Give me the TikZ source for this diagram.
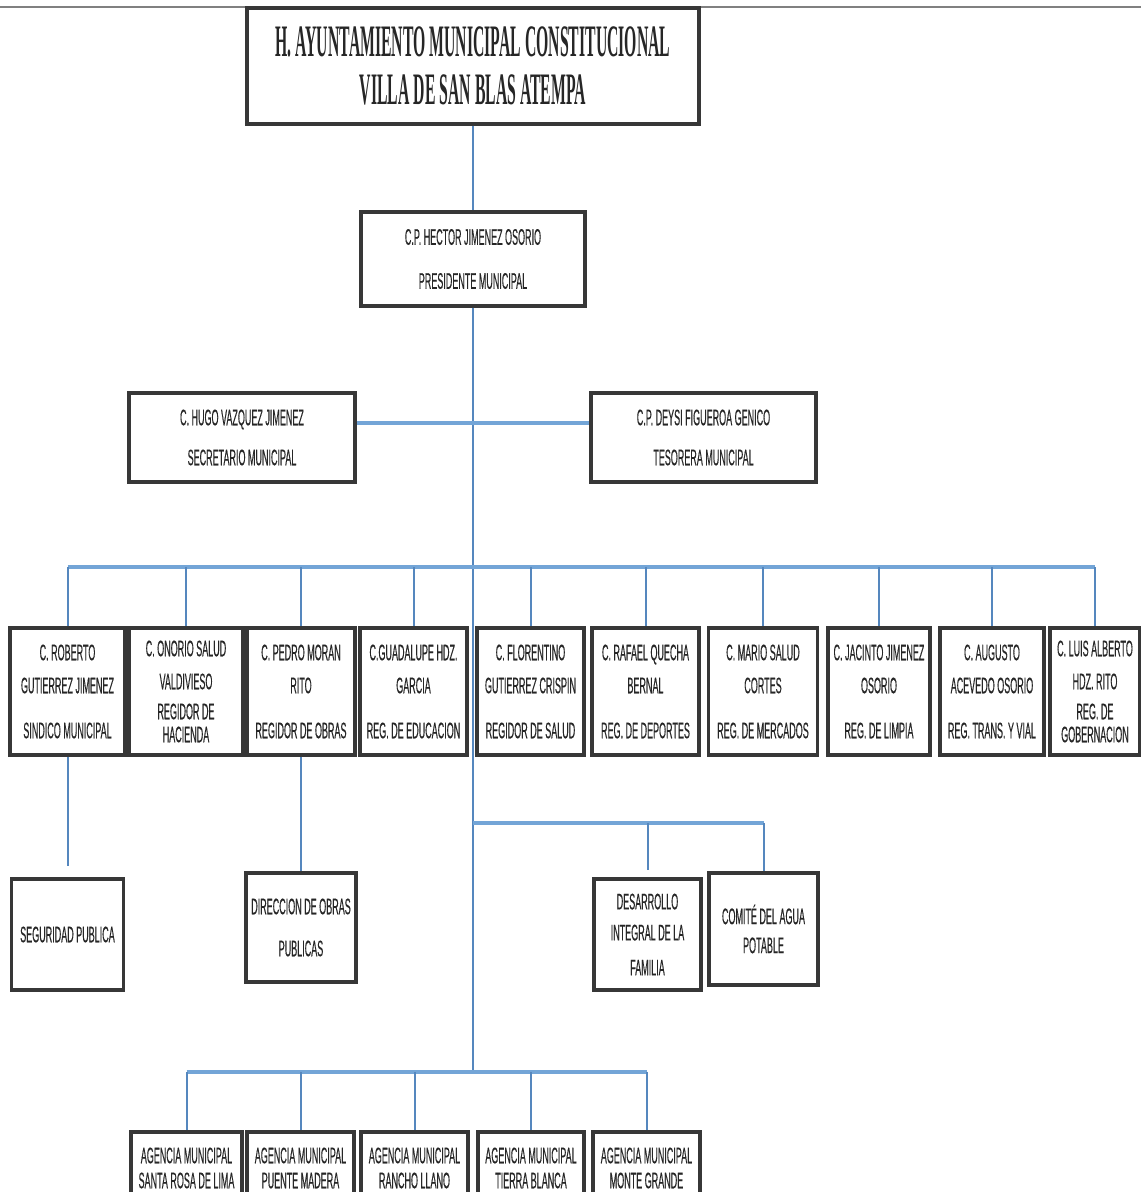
\documentclass[tikz,border=0pt]{standalone}
\usepackage{fontspec}
\setmainfont{Liberation Sans}[FakeStretch=0.40, FakeBold=0.3]
\newfontfamily\titlefont{Liberation Serif}[FakeStretch=0.35]
\usepackage{tikz}

\definecolor{thinblue}{RGB}{85,135,190}
\definecolor{busblue}{RGB}{115,165,215}
\definecolor{boxgray}{RGB}{55,55,55}

\tikzset{
  box/.style={draw=boxgray, line width=2pt, fill=white, inner sep=0pt,
    align=center, text=black!85, font=\fontsize{13.5}{15}\selectfont},
  reg/.style={box, minimum height=76.2pt},
  agency/.style={box, minimum height=43.2pt},
  thinline/.style={draw=thinblue, line width=1.2pt},
  busline/.style={draw=busblue, line width=2.8pt},
}

\begin{document}
\begin{tikzpicture}[x=0.6pt, y=-0.6pt]
  \useasboundingbox [fill=white] (0,0) rectangle (1141,1192);
  \draw [gray, line width=1pt] (0,7) -- (1141,7);

  % cabeza
  \node [box, minimum width=271.2pt, minimum height=69.6pt,
    font=\titlefont\bfseries\fontsize{27}{28.8}\selectfont] (title) at (473,66)
    {H. AYUNTAMIENTO MUNICIPAL CONSTITUCIONAL\\VILLA DE SAN BLAS ATEMPA};
  \node [box, minimum width=134.4pt, minimum height=56.4pt] (pres) at (473,259)
    {C.P. HECTOR JIMENEZ OSORIO\\[11.4pt]PRESIDENTE MUNICIPAL};
  \node [box, minimum width=135.6pt, minimum height=53.4pt] (sec) at (242,437.5)
    {C. HUGO VAZQUEZ JIMENEZ\\[9pt]SECRETARIO MUNICIPAL};
  \node [box, minimum width=135pt, minimum height=53.4pt] (tes) at (703.5,437.5)
    {C.P. DEYSI FIGUEROA GENICO\\[9pt]TESORERA MUNICIPAL};

  % regidores
  \node [reg, minimum width=69pt] (rob) at (67.5,691.5)
    {C. ROBERTO\\[4.8pt]GUTIERREZ JIMENEZ\\[12pt]SINDICO MUNICIPAL};
  \node [reg, minimum width=68.4pt] (ono) at (186,691.5)
    {C. ONORIO SALUD\\[4.8pt]VALDIVIESO\\[3pt]REGIDOR DE\\[-1.2pt]HACIENDA};
  \node [reg, minimum width=64.8pt] (ped) at (301,691.5)
    {C. PEDRO MORAN\\[4.8pt]RITO\\[12pt]REGIDOR DE OBRAS};
  \node [reg, minimum width=64.2pt] (gua) at (413.5,691.5)
    {C.GUADALUPE HDZ.\\[4.8pt]GARCIA\\[12pt]REG. DE EDUCACION};
  \node [reg, minimum width=64.2pt] (flo) at (530.5,691.5)
    {C. FLORENTINO\\[4.8pt]GUTIERREZ CRISPIN\\[12pt]REGIDOR DE SALUD};
  \node [reg, minimum width=64.2pt] (raf) at (645.5,691.5)
    {C. RAFAEL QUECHA\\[4.8pt]BERNAL\\[12pt]REG. DE DEPORTES};
  \node [reg, minimum width=65.4pt] (mar) at (763,691.5)
    {C. MARIO SALUD\\[4.8pt]CORTES\\[12pt]REG. DE MERCADOS};
  \node [reg, minimum width=61.2pt] (jac) at (879,691.5)
    {C. JACINTO JIMENEZ\\[4.8pt]OSORIO\\[12pt]REG. DE LIMPIA};
  \node [reg, minimum width=62.4pt] (aug) at (992,691.5)
    {C. AUGUSTO\\[4.8pt]ACEVEDO OSORIO\\[12pt]REG. TRANS. Y VIAL};
  \node [reg, minimum width=54pt] (lui) at (1095,691.5)
    {C. LUIS ALBERTO\\[4.8pt]HDZ. RITO\\[3pt]REG. DE\\[-1.2pt]GOBERNACION};

  % dependencias
  \node [box, minimum width=67.2pt, minimum height=66.6pt] (seg) at (67.5,934.5)
    {SEGURIDAD PUBLICA};
  \node [box, minimum width=66pt, minimum height=65.4pt] (dir) at (301,927.5)
    {DIRECCION DE OBRAS\\[10.2pt]PUBLICAS};
  \node [box, minimum width=64.2pt, minimum height=66.6pt] (des) at (647.5,934.5)
    {DESARROLLO\\[3.6pt]INTEGRAL DE LA\\[6pt]FAMILIA};
  \node [box, minimum width=65.4pt, minimum height=67.2pt] (com) at (763.5,929)
    {COMITÉ DEL AGUA\\[2.4pt]POTABLE};

  % agencias
  \node [agency, minimum width=66.6pt] (ag1) at (186.5,1168)
    {AGENCIA MUNICIPAL\\SANTA ROSA DE LIMA};
  \node [agency, minimum width=64.2pt] (ag2) at (300.5,1168)
    {AGENCIA MUNICIPAL\\PUENTE MADERA};
  \node [agency, minimum width=64.2pt] (ag3) at (414.5,1168)
    {AGENCIA MUNICIPAL\\RANCHO LLANO};
  \node [agency, minimum width=63.6pt] (ag4) at (531,1168)
    {AGENCIA MUNICIPAL\\TIERRA BLANCA};
  \node [agency, minimum width=64.2pt] (ag5) at (646.5,1168)
    {AGENCIA MUNICIPAL\\MONTE GRANDE};

  \coordinate (stbus) at (473,423);
  \coordinate (regbus) at (473,567);
  \coordinate (difbus) at (473,823);
  \coordinate (agbus) at (473,1072);

  % lineas
  \draw [thinline] (title.south) -- (pres.north);
  \draw [thinline] (pres.south) -- (agbus);
  \draw [busline] (sec.east |- stbus) -- (tes.west |- stbus);
  \draw [busline] (rob.north |- regbus) -- (lui.north |- regbus);
  \foreach \n in {rob,ono,ped,gua,flo,raf,mar,jac,aug,lui}
    \draw [thinline] (\n.north |- regbus) -- (\n.north);
  \draw [thinline, shorten >=6.6pt] (rob.south) -- (seg.north);
  \draw [thinline] (ped.south) -- (dir.north);
  \draw [busline] (difbus) -- (com.north |- difbus);
  \draw [thinline, shorten >=4.2pt] (des.north |- difbus) -- (des.north);
  \draw [thinline] (com.north |- difbus) -- (com.north);
  \draw [busline] (ag1.north |- agbus) -- (ag5.north |- agbus);
  \foreach \n in {ag1,ag2,ag3,ag4,ag5}
    \draw [thinline] (\n.north |- agbus) -- (\n.north);
\end{tikzpicture}
\end{document}
